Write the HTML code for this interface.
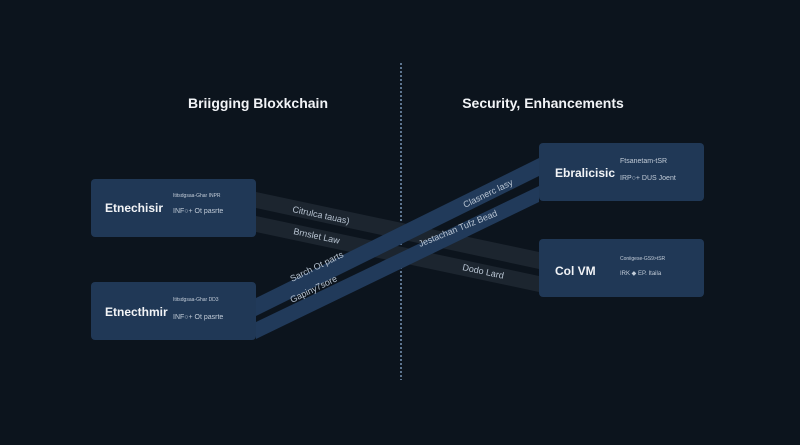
<!DOCTYPE html>
<html><head><style>
body{margin:0;background:#0c141d;}
svg{display:block;font-family:"Liberation Sans",sans-serif;}
</style></head><body>
<svg width="800" height="445" viewBox="0 0 800 445">
<rect width="800" height="445" fill="#0c141d"/>
<line x1="401" y1="63" x2="401" y2="380" stroke="#5d7590" stroke-width="2" stroke-dasharray="2 2"/>
<text x="258" y="108" fill="#f2f4f7" font-size="14" font-weight="bold" text-anchor="middle">Briigging Bloxkchain</text>
<text x="543" y="108" fill="#f2f4f7" font-size="14" font-weight="bold" text-anchor="middle">Security, Enhancements</text>
<!-- dark bands -->
<polygon points="256,192 539,252 539,269 256,208" fill="#1c252f"/>
<polygon points="256,216 539,276 539,292 256,232" fill="#1c252f"/>
<!-- blue bands -->
<polygon points="256,298 539,158 539,176 256,316" fill="#213a5a"/>
<polygon points="256,322 539,186 539,202 256,339" fill="#213a5a"/>
<g fill="#b8c4d2" font-size="9">
<text transform="translate(292,212) rotate(12)">Citrulca tauas)</text>
<text transform="translate(293,234) rotate(12)">Brnslet Law</text>
<text transform="translate(292,282) rotate(-26)">Sarch Ot parts</text>
<text transform="translate(292,303) rotate(-26)">Gapiny7sore</text>
<text transform="translate(465,208) rotate(-26)">Clasnerc lasy</text>
<text transform="translate(420,247) rotate(-22)">Jestachan Tufz Bead</text>
<text transform="translate(462,270) rotate(12)">Dodo Lard</text>
</g>
<g fill="#203856">
<rect x="91" y="179" width="165" height="58" rx="4"/>
<rect x="91" y="282" width="165" height="58" rx="4"/>
<rect x="539" y="143" width="165" height="58" rx="4"/>
<rect x="539" y="239" width="165" height="58" rx="4"/>
</g>
<g fill="#f2f4f7" font-weight="bold" font-size="12">
<text x="105" y="212">Etnechisir</text>
<text x="105" y="316">Etnecthmir</text>
<text x="555" y="177">Ebralicisic</text>
<text x="555" y="275">Col VM</text>
</g>
<g fill="#c2ccd8" font-size="7">
<text x="173" y="197" font-size="5">Ititsdgsaa-Ghar INPR</text>
<text x="173" y="213">INF○+ Ot pasrte</text>
<text x="173" y="301" font-size="5">Ititsdgsaa-Ghar DD3</text>
<text x="173" y="319">INF○+ Ot pasrte</text>
<text x="620" y="163">Ftsanetam-tSR</text>
<text x="620" y="180">IRP○+ DUS Joent</text>
<text x="620" y="260" font-size="5">Coniigese-GS9&gt;tSR</text>
<text x="620" y="275" font-size="6">IRK ◆ EP. Itaila</text>
</g>
</svg>
</body></html>
